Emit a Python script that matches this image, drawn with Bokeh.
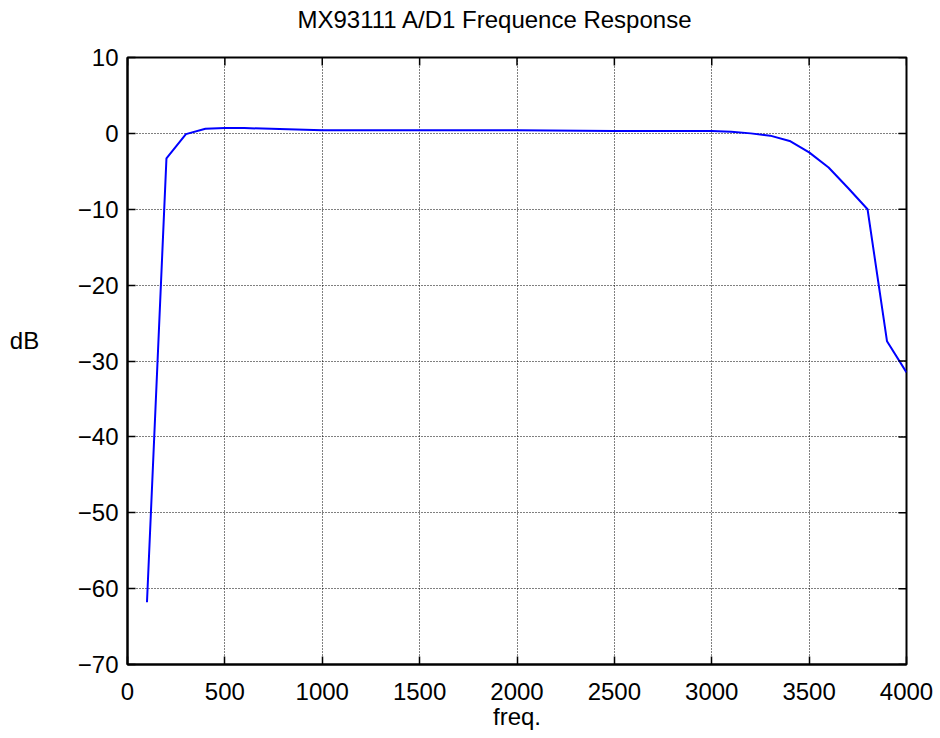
import math
from bokeh.plotting import figure
from bokeh.models import FixedTicker
from bokeh.layouts import row, column
from bokeh.core.properties import value
from bokeh.embed import file_html
from bokeh.resources import INLINE

# Data
freq = [100, 200, 300, 400, 500, 600, 1000, 1500, 2000, 2500, 3000,
        3100, 3200, 3300, 3400, 3500, 3600, 3700, 3800, 3900, 4000]
db = [-61.8, -3.3, -0.1, 0.6, 0.7, 0.7, 0.4, 0.4, 0.4, 0.3, 0.3,
      0.2, 0.0, -0.3, -1.0, -2.5, -4.5, -7.2, -10.0, -27.4, -31.5]

x_ticks = [0, 500, 1000, 1500, 2000, 2500, 3000, 3500, 4000]
y_ticks = [-70, -60, -50, -40, -30, -20, -10, 0, 10]
x_min, x_max = 0, 4000
y_min, y_max = -70, 10

title_text = "MX93111 A/D1 Frequence Response"
x_label = "freq."
y_label = "dB"

FONT = "Liberation Sans"
FS = "24px"
W, H = 940, 738
TH = 40   # height of the strip holding the title
LW = 48   # width of the strip holding the y label


def strip(width, height):
    f = figure(width=width, height=height, x_range=(0, width),
               y_range=(height, 0), output_backend="svg",
               toolbar_location=None, x_axis_type=None, y_axis_type=None,
               min_border=0)
    f.outline_line_color = None
    f.grid.grid_line_color = None
    f.background_fill_color = "white"
    f.border_fill_color = "white"
    return f


# narrow full-height strip carrying the horizontal "dB" label
lab = strip(LW, H)
lab.text(x=[LW / 2], y=[340], text=[y_label], text_font=value(FONT),
         text_font_size=FS, text_align="center", text_baseline="middle",
         text_color="black")

# title strip
tfig = strip(W - LW, TH)
tfig.text(x=[421], y=[19], text=[title_text], text_font=value(FONT),
          text_font_size=FS, text_align="center",
          text_baseline="alphabetic", text_color="black")

p = figure(width=W - LW, height=H - TH, x_range=(x_min, x_max),
           y_range=(y_min, y_max),
           output_backend="svg", toolbar_location=None,
           min_border_left=127 - LW, min_border_right=34,
           min_border_top=57 - TH, min_border_bottom=74)

p.line(freq, db, line_color="#0000ff", line_width=2)

p.outline_line_color = "black"
p.outline_line_width = 2
p.outline_line_alpha = 1.0
p.background_fill_color = "white"
p.border_fill_color = "white"

for ax, ticks in ((p.xaxis[0], x_ticks), (p.yaxis[0], y_ticks)):
    ax.ticker = FixedTicker(ticks=ticks)
    ax.major_tick_in = 8
    ax.major_tick_out = 0
    ax.minor_tick_line_color = None
    ax.major_tick_line_color = "black"
    ax.major_tick_line_width = 1.5
    ax.axis_line_color = "black"
    ax.axis_line_width = 2
    ax.major_label_text_font = FONT
    ax.major_label_text_color = "black"
    ax.major_label_text_font_size = FS

xa = p.xaxis[0]
xa.major_label_standoff = 18
xa.axis_label = x_label
xa.axis_label_text_font = FONT
xa.axis_label_text_font_size = FS
xa.axis_label_text_font_style = "normal"
xa.axis_label_text_color = "black"
xa.axis_label_standoff = 0

p.yaxis[0].major_label_standoff = 9

# inward tick marks on the top and right edges of the box
p.ray(x=x_ticks, y=[y_max] * len(x_ticks), length=8, length_units="screen",
      angle=-math.pi / 2, line_color="black", line_width=1.5)
p.ray(x=[x_max] * len(y_ticks), y=y_ticks, length=8, length_units="screen",
      angle=math.pi, line_color="black", line_width=1.5)

for g, t in ((p.xgrid[0], x_ticks), (p.ygrid[0], y_ticks)):
    g.ticker = FixedTicker(ticks=t)
    g.grid_line_color = "black"
    g.grid_line_width = 1
    g.grid_line_dash = "1 2"
    g.grid_line_alpha = 1.0

layout = row(lab, column(tfig, p, spacing=0), spacing=0)
open("out.html", "w").write(file_html(layout, INLINE))
